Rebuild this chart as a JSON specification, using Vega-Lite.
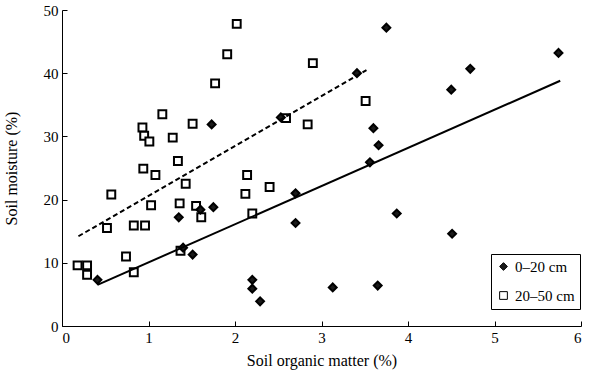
{
  "$schema": "https://vega.github.io/schema/vega-lite/v6.json",
  "width": 519,
  "height": 316,
  "autosize": {"type": "none"},
  "padding": {"left": 62, "top": 10, "right": 14, "bottom": 52},
  "background": "white",
  "config": {
    "font": "Liberation Serif",
    "view": {"stroke": null},
    "legend": {
      "labelFont": "Liberation Serif", "labelFontSize": 15, "labelColor": "black", "labelOffset": 4,
      "strokeColor": "black", "padding": 5, "rowPadding": 13,
      "symbolSize": 60, "symbolStrokeWidth": 1, "symbolStrokeColor": "black"
    }
  },
  "datasets": {
    "pts": [
      {"som": 2.02, "moist": 47.8, "depth": "20–50 cm"},
      {"som": 1.91, "moist": 43.0, "depth": "20–50 cm"},
      {"som": 1.77, "moist": 38.4, "depth": "20–50 cm"},
      {"som": 1.16, "moist": 33.5, "depth": "20–50 cm"},
      {"som": 0.93, "moist": 31.4, "depth": "20–50 cm"},
      {"som": 0.95, "moist": 30.1, "depth": "20–50 cm"},
      {"som": 1.01, "moist": 29.2, "depth": "20–50 cm"},
      {"som": 1.28, "moist": 29.8, "depth": "20–50 cm"},
      {"som": 1.51, "moist": 32.0, "depth": "20–50 cm"},
      {"som": 2.59, "moist": 32.9, "depth": "20–50 cm"},
      {"som": 1.34, "moist": 26.1, "depth": "20–50 cm"},
      {"som": 0.94, "moist": 24.9, "depth": "20–50 cm"},
      {"som": 1.08, "moist": 23.9, "depth": "20–50 cm"},
      {"som": 2.14, "moist": 23.9, "depth": "20–50 cm"},
      {"som": 1.43, "moist": 22.5, "depth": "20–50 cm"},
      {"som": 2.40, "moist": 22.0, "depth": "20–50 cm"},
      {"som": 2.90, "moist": 41.6, "depth": "20–50 cm"},
      {"som": 3.51, "moist": 35.6, "depth": "20–50 cm"},
      {"som": 2.84, "moist": 31.9, "depth": "20–50 cm"},
      {"som": 0.57, "moist": 20.8, "depth": "20–50 cm"},
      {"som": 1.03, "moist": 19.1, "depth": "20–50 cm"},
      {"som": 1.36, "moist": 19.4, "depth": "20–50 cm"},
      {"som": 1.55, "moist": 19.0, "depth": "20–50 cm"},
      {"som": 1.61, "moist": 17.2, "depth": "20–50 cm"},
      {"som": 2.12, "moist": 20.9, "depth": "20–50 cm"},
      {"som": 2.20, "moist": 17.8, "depth": "20–50 cm"},
      {"som": 0.52, "moist": 15.5, "depth": "20–50 cm"},
      {"som": 0.83, "moist": 15.9, "depth": "20–50 cm"},
      {"som": 0.96, "moist": 15.9, "depth": "20–50 cm"},
      {"som": 0.74, "moist": 11.0, "depth": "20–50 cm"},
      {"som": 1.37, "moist": 11.9, "depth": "20–50 cm"},
      {"som": 0.83, "moist": 8.5, "depth": "20–50 cm"},
      {"som": 0.18, "moist": 9.6, "depth": "20–50 cm"},
      {"som": 0.29, "moist": 9.6, "depth": "20–50 cm"},
      {"som": 0.29, "moist": 8.1, "depth": "20–50 cm"},
      {"som": 1.73, "moist": 31.9, "depth": "0–20 cm"},
      {"som": 2.53, "moist": 33.0, "depth": "0–20 cm"},
      {"som": 3.75, "moist": 47.2, "depth": "0–20 cm"},
      {"som": 5.74, "moist": 43.2, "depth": "0–20 cm"},
      {"som": 4.72, "moist": 40.7, "depth": "0–20 cm"},
      {"som": 3.41, "moist": 40.0, "depth": "0–20 cm"},
      {"som": 4.50, "moist": 37.4, "depth": "0–20 cm"},
      {"som": 3.60, "moist": 31.3, "depth": "0–20 cm"},
      {"som": 3.66, "moist": 28.6, "depth": "0–20 cm"},
      {"som": 3.56, "moist": 25.9, "depth": "0–20 cm"},
      {"som": 1.35, "moist": 17.2, "depth": "0–20 cm"},
      {"som": 1.75, "moist": 18.8, "depth": "0–20 cm"},
      {"som": 1.60, "moist": 18.4, "depth": "0–20 cm"},
      {"som": 1.40, "moist": 12.4, "depth": "0–20 cm"},
      {"som": 1.51, "moist": 11.3, "depth": "0–20 cm"},
      {"som": 0.41, "moist": 7.3, "depth": "0–20 cm"},
      {"som": 2.20, "moist": 7.3, "depth": "0–20 cm"},
      {"som": 2.20, "moist": 5.9, "depth": "0–20 cm"},
      {"som": 2.29, "moist": 3.9, "depth": "0–20 cm"},
      {"som": 2.70, "moist": 21.0, "depth": "0–20 cm"},
      {"som": 2.70, "moist": 16.3, "depth": "0–20 cm"},
      {"som": 3.87, "moist": 17.8, "depth": "0–20 cm"},
      {"som": 4.51, "moist": 14.6, "depth": "0–20 cm"},
      {"som": 3.13, "moist": 6.1, "depth": "0–20 cm"},
      {"som": 3.65, "moist": 6.4, "depth": "0–20 cm"}
    ],
    "solidfit": [
      {"som": 0.41, "moist": 6.5},
      {"som": 5.76, "moist": 38.8}
    ],
    "dashfit": [
      {"som": 0.19, "moist": 14.2},
      {"som": 3.52, "moist": 40.5}
    ]
  },
  "layer": [
    {
      "data": {"name": "pts"},
      "mark": {"type": "point", "filled": true, "stroke": "black", "strokeWidth": 2, "opacity": 1, "size": 62},
      "encoding": {
        "x": {
          "field": "som", "type": "quantitative",
          "scale": {"domain": [0, 6], "nice": false},
          "axis": {
            "title": "Soil organic matter (%)", "values": [0, 1, 2, 3, 4, 5, 6], "format": "d",
            "grid": false, "domainColor": "black", "tickColor": "black", "tickSize": -5,
            "labelPadding": 9, "labelFont": "Liberation Serif", "labelFontSize": 15, "labelColor": "black",
            "titleFont": "Liberation Serif", "titleFontSize": 16, "titleFontWeight": "normal", "titleColor": "black",
            "titlePadding": 7
          }
        },
        "y": {
          "field": "moist", "type": "quantitative",
          "scale": {"domain": [0, 50], "nice": false},
          "axis": {
            "title": "Soil moisture (%)", "values": [0, 5, 10, 15, 20, 25, 30, 35, 40, 45, 50], "format": "d",
            "grid": false, "domainColor": "black", "tickColor": "black", "tickSize": -5,
            "labelPadding": 9, "labelFont": "Liberation Serif", "labelFontSize": 15, "labelColor": "black",
            "titleFont": "Liberation Serif", "titleFontSize": 16, "titleFontWeight": "normal", "titleColor": "black",
            "titlePadding": 24
          }
        },
        "shape": {
          "field": "depth", "type": "nominal", "title": null,
          "scale": {"domain": ["0–20 cm", "20–50 cm"], "range": ["diamond", "square"]},
          "legend": {
            "orient": "none", "legendX": 429, "legendY": 244, "title": null,
            "encode": {"labels": {"update": {"fontSize": {"value": 15}, "font": {"value": "Liberation Serif"}, "fill": {"value": "black"}}}}
          }
        },
        "color": {
          "field": "depth", "type": "nominal", "title": null,
          "scale": {"domain": ["0–20 cm", "20–50 cm"], "range": ["#1a1a1a", "white"]},
          "legend": {
            "orient": "none", "legendX": 429, "legendY": 244, "title": null,
            "encode": {"labels": {"update": {"fontSize": {"value": 15}, "font": {"value": "Liberation Serif"}, "fill": {"value": "black"}}}}
          }
        }
      }
    },
    {
      "data": {"name": "solidfit"},
      "mark": {"type": "line", "color": "black", "strokeWidth": 2},
      "encoding": {
        "x": {"field": "som", "type": "quantitative"},
        "y": {"field": "moist", "type": "quantitative"}
      }
    },
    {
      "data": {"name": "dashfit"},
      "mark": {"type": "line", "color": "black", "strokeWidth": 2, "strokeDash": [5, 3]},
      "encoding": {
        "x": {"field": "som", "type": "quantitative"},
        "y": {"field": "moist", "type": "quantitative"}
      }
    }
  ]
}
